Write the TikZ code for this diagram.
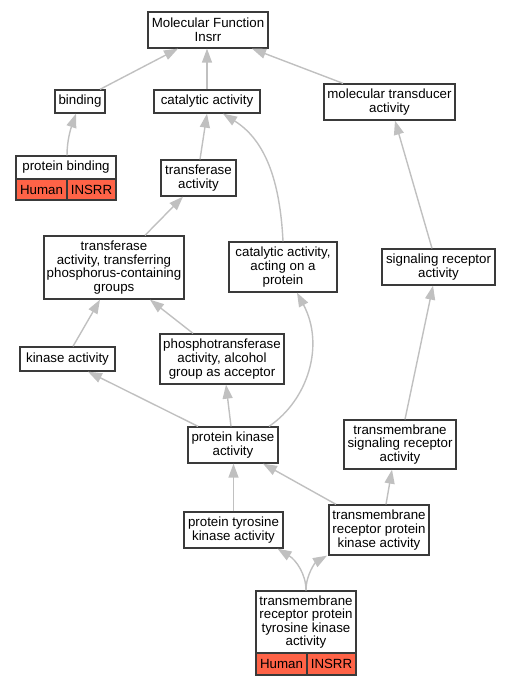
\documentclass[tikz,border=0pt]{standalone}
\usepackage{fontspec}
\setmainfont{Liberation Sans}
\usetikzlibrary{arrows.meta}
\definecolor{edgec}{HTML}{C0C0C0}
\definecolor{cellc}{HTML}{FF6347}
\definecolor{boxc}{HTML}{3A3A3A}
\begin{document}
\begin{tikzpicture}[x=1pt,y=-1pt,
  box/.style={draw=boxc, line width=1.3pt, fill=white, inner sep=0pt, align=center,
    font=\fontsize{13.3}{13.6}\selectfont},
  cell/.style={box, fill=cellc, line width=1.1pt},
  edge/.style={draw=edgec, line width=1.4pt, -{Triangle[length=14pt,width=10pt]}}]
\useasboundingbox (0,0) rectangle (511,685);
% nodes
\node[box, minimum width=120pt, minimum height=36pt] (mf) at (208,30) {Molecular Function\\Insrr};
\node[box, minimum width=50pt, minimum height=23pt] (bind) at (80,101.5) {binding};
\node[box, minimum width=106pt, minimum height=23pt] (cat) at (207,101.5) {catalytic activity};
\node[box, minimum width=131pt, minimum height=36pt] (mta) at (389.5,102) {molecular transducer\\activity};
\node[box, minimum width=100pt, minimum height=23pt] (pb) at (66,167.5) {protein binding};
\node[cell, minimum width=51pt, minimum height=21pt] (pbh) at (41.5,189.5) {Human};
\node[cell, minimum width=49pt, minimum height=21pt] (pbi) at (91.5,189.5) {INSRR};
\node[box, minimum width=75pt, minimum height=36pt] (ta) at (198.5,178) {transferase\\activity};
\node[box, minimum width=140pt, minimum height=63pt] (tat) at (114,267.5) {transferase\\activity, transferring\\phosphorus-containing\\groups};
\node[box, minimum width=108pt, minimum height=50pt] (cap) at (283,267) {catalytic activity,\\acting on a\\protein};
\node[box, minimum width=113pt, minimum height=36pt] (sra) at (438.5,267) {signaling receptor\\activity};
\node[box, minimum width=95pt, minimum height=24pt] (ka) at (67.5,359) {kinase activity};
\node[box, minimum width=124pt, minimum height=50pt] (pta) at (222,359) {phosphotransferase\\activity, alcohol\\group as acceptor};
\node[box, minimum width=90pt, minimum height=36pt] (pka) at (233,445) {protein kinase\\activity};
\node[box, minimum width=112pt, minimum height=49pt] (tsra) at (400,444.5) {transmembrane\\signaling receptor\\activity};
\node[box, minimum width=99pt, minimum height=36pt] (ptk) at (233.5,530) {protein tyrosine\\kinase activity};
\node[box, minimum width=100pt, minimum height=50pt] (trpk) at (379,530) {transmembrane\\receptor protein\\kinase activity};
\node[box, minimum width=100pt, minimum height=62pt] (bot) at (306,622) {transmembrane\\receptor protein\\tyrosine kinase\\activity};
\node[cell, minimum width=51pt, minimum height=22pt] (both) at (281.5,664) {Human};
\node[cell, minimum width=49pt, minimum height=22pt] (boti) at (331.5,664) {INSRR};
% edges
\draw[edge] ([xshift=20pt]bind.north) -- ([xshift=-30pt]mf.south);
\draw[edge] (cat.north) -- (cat.north |- mf.south);
\draw[edge] ([xshift=-46.5pt]mta.north) -- ([xshift=44pt]mf.south);
\draw[edge] ([xshift=1pt]pb.north) .. controls (67,140) and (71,128) .. ([xshift=-4pt]bind.south);
\draw[edge] ([xshift=1.5pt]ta.north) -- (cat.south);
\draw[edge] (cap.north) .. controls (280,180) and (265,140) .. ([xshift=16pt]cat.south);
\draw[edge] ([xshift=-6.5pt]sra.north) -- ([xshift=5.5pt]mta.south);
\draw[edge] ([xshift=31pt]tat.north) -- ([xshift=-15.5pt]ta.south);
\draw[edge] ([xshift=5.5pt]ka.north) -- ([xshift=-14pt]tat.south);
\draw[edge] ([xshift=-29pt]pta.north) -- ([xshift=36pt]tat.south);
\draw[edge] ([xshift=-35pt]pka.north) -- ([xshift=20.5pt]ka.south);
\draw[edge] ([xshift=-2pt]pka.north) -- ([xshift=4pt]pta.south);
\draw[edge] ([xshift=36pt]pka.north) .. controls (308,400) and (325,345) .. ([xshift=14pt]cap.south);
\draw[edge] ([xshift=5pt]tsra.north) -- ([xshift=-5.5pt]sra.south);
\draw[edge] (ptk.north) -- (ptk.north |- pka.south);
\draw[edge] ([xshift=-43pt]trpk.north) -- ([xshift=30pt]pka.south);
\draw[edge] ([xshift=7pt]trpk.north) -- ([xshift=-8pt]tsra.south);
\draw[edge] (bot.north) .. controls (306,574) and (296,560) .. ([xshift=44pt]ptk.south);
\draw[edge] (bot.north) .. controls (306,574) and (316,562) .. ([xshift=-52pt]trpk.south);
\end{tikzpicture}
\end{document}
